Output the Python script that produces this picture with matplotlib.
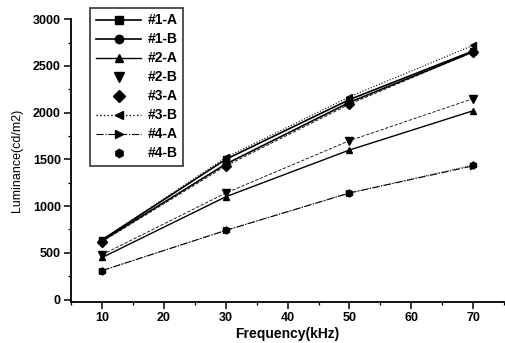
import matplotlib
matplotlib.use("Agg")
import matplotlib.pyplot as plt
from matplotlib.lines import Line2D
from matplotlib.ticker import MultipleLocator

plt.rcParams["font.family"] = ["Liberation Sans", "DejaVu Sans"]

# ── Data ──────────────────────────────────────────────────────────────────────
freq = [10, 30, 50, 70]

lum_1a = [640, 1500, 2140, 2660]
lum_1b = [630, 1450, 2110, 2650]
lum_2a = [450, 1100, 1600, 2020]
lum_2b = [480, 1140, 1700, 2150]
lum_3a = [620, 1430, 2090, 2650]
lum_3b = [640, 1520, 2170, 2720]
lum_4a = [310, 740, 1140, 1430]
lum_4b = [310, 740, 1140, 1440]

labels = ["#1-A", "#1-B", "#2-A", "#2-B", "#3-A", "#3-B", "#4-A", "#4-B"]

fig = plt.figure(figsize=(5.06, 3.43), dpi=100)
ax = fig.add_axes([0.141, 0.12, 0.855, 0.824])

series = [lum_1a, lum_1b, lum_2a, lum_2b, lum_3a, lum_3b, lum_4a, lum_4b]
markers = ["s", "o", "^", "v", "D", "<", ">", "h"]
styles = ["-", "-", "-", (0, (4, 2)), (0, (4, 2)), ":", "-.", ":"]
widths = [1.2, 1.2, 1.0, 0.6, 0.6, 0.8, 0.8, 0.6]
msizes = [5, 5, 5, 6, 5, 5, 5, 5]
# legend in the reference shows #2-B, #3-A and #4-B as markers only
legend_ls = ["-", "-", "-", "none", "none", ":", "-.", "none"]

handles = []
for y, lab, m, ls, lw, ms, lls in zip(series, labels, markers, styles,
                                      widths, msizes, legend_ls):
    ax.plot(freq, y, color="black", marker=m, linestyle=ls, linewidth=lw,
            markersize=ms)
    handles.append(Line2D([], [], color="black", marker=m, linestyle=lls,
                          linewidth=lw if lls != ":" else 1.0,
                          markersize=ms + 1, label=lab))

ax.set_xlim(5, 75)
ax.set_ylim(-25, 3000)
ax.xaxis.set_major_locator(MultipleLocator(10))
ax.xaxis.set_minor_locator(MultipleLocator(5))
ax.yaxis.set_major_locator(MultipleLocator(500))
ax.yaxis.set_minor_locator(MultipleLocator(250))

for side in ["top", "right"]:
    ax.spines[side].set_visible(False)
for side in ["left", "bottom"]:
    ax.spines[side].set_linewidth(1.3)

ax.tick_params(which="major", direction="out", length=5, width=1.1,
               labelsize=9, pad=2.5)
ax.tick_params(which="minor", direction="out", length=2.5, width=0.9)
for t in ax.get_xticklabels() + ax.get_yticklabels():
    t.set_fontweight("bold")

ax.set_xlabel("Frequency(kHz)", fontsize=10, fontweight="bold", labelpad=2)
ax.set_ylabel("Luminance(cd/m2)", fontsize=9, labelpad=7)

leg = fig.legend(handles=handles, loc="upper left",
                 bbox_to_anchor=(0.178, 0.977), borderaxespad=0,
                 prop={"weight": "bold", "size": 10},
                 frameon=True, fancybox=False, edgecolor="black",
                 handlelength=3.3, handletextpad=0.45, labelspacing=0.36,
                 borderpad=0.4)
leg.get_frame().set_linewidth(1.2)

fig.savefig("out.png", dpi=100)
